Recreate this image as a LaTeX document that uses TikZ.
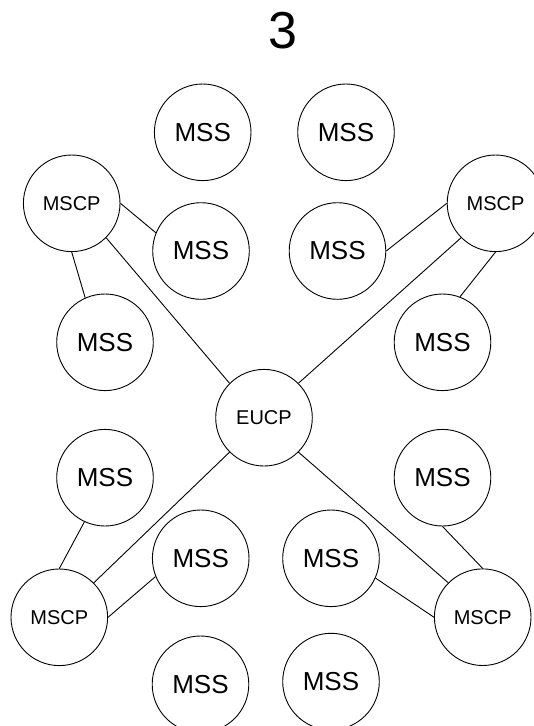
\documentclass[tikz,border=0pt]{standalone}
\usepackage{fontspec}
\setmainfont{Liberation Sans}
\usepackage{tikz}

\begin{document}
\begin{tikzpicture}[
      x=1pt, y=-1pt,
      station/.style={circle, draw=black, line width=0.9pt, minimum size=96.6pt, inner sep=0pt},
      mss/.style={station, font=\fontsize{26}{26}\selectfont},
      ctrl/.style={station, font=\fontsize{20}{20}\selectfont},
      link/.style={draw=black, line width=0.9pt}
    ]
    \useasboundingbox (0,0) rectangle (534,726);

    % Title
    \node[font=\fontsize{52}{52}\selectfont, inner sep=0pt] (title) at (283,30.5) {3};

    % Control points
    \node[ctrl] (eucp) at (264,417.7) {EUCP};
    \node[ctrl] (mscptl) at (71.7,203.3) {MSCP};
    \node[ctrl] (mscptr) at (495.5,203.3) {MSCP};
    \node[ctrl] (mscpbl) at (59.3,617.3) {MSCP};
    \node[ctrl] (mscpbr) at (482.7,617.2) {MSCP};

    % Switching stations
    \foreach \name/\x/\y in {mssa/202.7/132.3, mssb/346/132.3,
                              mssc/201/251, mssd/337.5/251,
                              msse/105/342.3, mssf/442.5/342.3,
                              mssg/105/477.7, mssh/442.5/477.7,
                              mssi/200.7/558.3, mssj/331/558.3,
                              mssk/200.5/684.3, mssl/331/681.6} {
      \node[mss] (\name) at (\x,\y) {MSS};
    }

    % Links to the EUCP
    \draw[link] (mscptl.-45) -- (eucp.135);
    \draw[link] (mscptr.225) -- (eucp.45);
    \draw[link] (eucp.225) -- (mscpbl.45);
    \draw[link] (eucp.-45) -- (mscpbr.135);

    % Links to the stations
    \draw[link] (mscptl.east) -- (mssc.158);
    \draw[link] (mscptl.south) -- (msse.114);
    \draw[link] (mscptr.west) -- (mssd.east);
    \draw[link] (mscptr.south) -- (mssf.69);
    \draw[link] (mscpbl.north) -- (mssg.245);
    \draw[link] (mscpbl.east) -- (mssi.202);
    \draw[link] (mscpbr.north) -- (mssh.south);
    \draw[link] (mscpbr.west) -- (mssj.-24);
  \end{tikzpicture}
\end{document}
